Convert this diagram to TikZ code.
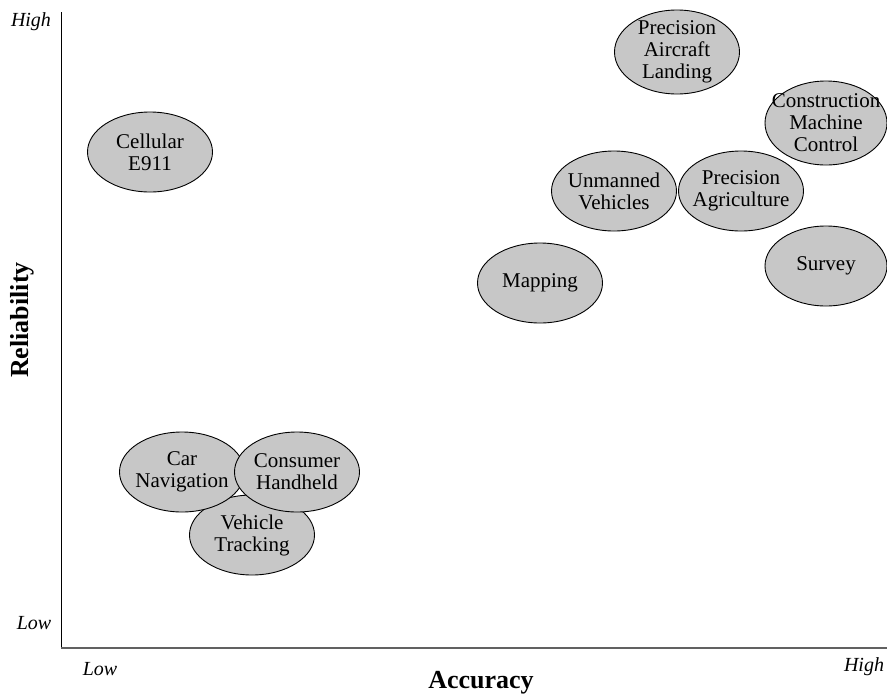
\documentclass[tikz,border=0pt]{standalone}
\usepackage{fontspec}
\setmainfont{Liberation Serif}
\usepackage{tikz}
\usetikzlibrary{shapes.geometric}

\begin{document}
\begin{tikzpicture}[x=1pt,y=-1pt,
	app/.style={ellipse, draw=black, line width=0.9pt, fill=black!22, align=center, inner sep=0pt, inner xsep=-22pt, inner ysep=-14pt, minimum width=125pt, minimum height=80pt, font=\fontsize{21}{22}\selectfont},
	lvl/.style={font=\fontsize{20}{22}\selectfont\itshape},
	axlabel/.style={font=\fontsize{26}{28}\selectfont\bfseries}]
			\useasboundingbox (0,0) rectangle (887,694);
			\coordinate (ytop) at (61,12) ;
			\coordinate (orig) at (61,648) ;
			\coordinate (xend) at (887,648) ;
			\draw[line width=1pt] (ytop) -- (orig);
			\draw[line width=2pt, black!62] (orig) -- (xend);
			\node at (31,22) (yhigh) [lvl] {High} ;
			\node at (34,623) (ylow) [lvl] {Low} ;
			\node at (100,669) (xlow) [lvl] {Low} ;
			\node at (864,667) (xhigh) [lvl] {High} ;
			\node at (481,683) (acc) [axlabel] {Accuracy} ;
			\node at (22,320) (rel) [axlabel, rotate=90] {Reliability} ;
			\node at (150,152) (CE) [app] {Cellular\\E911} ;
			\node at (677,52) (PAL) [app, minimum height=84pt] {Precision\\Aircraft\\Landing} ;
			\node at (826,123) (CMC) [app, minimum width=122pt, minimum height=84pt] {Construction\\Machine\\Control} ;
			\node at (614,191) (UV) [app] {Unmanned\\Vehicles} ;
			\node at (741,191) (PA) [app] {Precision\\Agriculture} ;
			\node at (826,266) (SV) [app, minimum width=122pt] {Survey} ;
			\node at (540,283) (MP) [app] {Mapping} ;
			\node at (252,535) (VT) [app] {Vehicle\\Tracking} ;
			\node at (182,472) (CN) [app] {Car\\Navigation} ;
			\node at (297,472) (CH) [app] {Consumer\\Handheld} ; %drawn last, sits over CN and VT
\end{tikzpicture}
\end{document}
